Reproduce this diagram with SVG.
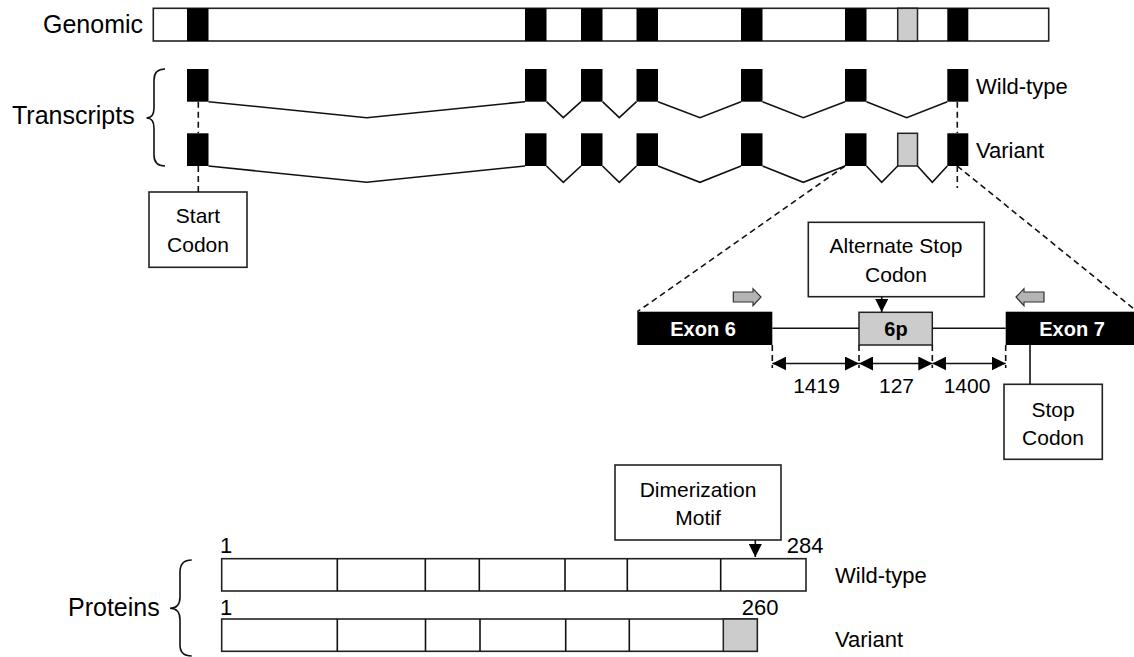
<svg xmlns="http://www.w3.org/2000/svg" width="1134" height="657" viewBox="0 0 1134 657">
<style>
text{font-family:"Liberation Sans",Arial,sans-serif;fill:#000}
.big{font-size:25px}
.lbl{font-size:21px}
.side{font-size:22px}
.ex{font-size:20px;font-weight:bold;fill:#fff}
.bar{fill:#fff;stroke:#222;stroke-width:1.6}
.exon{fill:#000}
.alt{fill:#ccc;stroke:#222;stroke-width:1.5}
.box{fill:#fff;stroke:#222;stroke-width:1.6}
.line{fill:none;stroke:#111;stroke-width:1.6}
.dash{fill:none;stroke:#111;stroke-width:1.6;stroke-dasharray:6,4}
.brace{fill:none;stroke:#111;stroke-width:1.6}
.garrow{fill:#b4b4b4;stroke:#333;stroke-width:1.2}
</style>
<defs>
<marker id="dimArrow" markerUnits="userSpaceOnUse" markerWidth="14" markerHeight="14" refX="14" refY="7" orient="auto-start-reverse">
<path d="M0,0 L14,7 L0,14 z" fill="#000"/>
</marker>
<marker id="downArrow" markerUnits="userSpaceOnUse" markerWidth="13" markerHeight="13" refX="13" refY="6.5" orient="auto">
<path d="M0,0 L13,6.5 L0,13 z" fill="#000"/>
</marker>
</defs>
<rect width="1134" height="657" fill="#fff"/>

<g id="genomic">
<text class="big" x="43" y="33">Genomic</text>
<rect class="bar" x="153.3" y="8.3" width="895.4" height="32.7"/>
<rect class="exon" x="187" y="8.3" width="21.5" height="32.7"/>
<rect class="exon" x="525" y="8.3" width="21.5" height="32.7"/>
<rect class="exon" x="581" y="8.3" width="21.5" height="32.7"/>
<rect class="exon" x="636.5" y="8.3" width="21.5" height="32.7"/>
<rect class="exon" x="741" y="8.3" width="21.5" height="32.7"/>
<rect class="exon" x="845" y="8.3" width="21.5" height="32.7"/>
<rect class="alt" x="897.7" y="8.3" width="19.8" height="32.7"/>
<rect class="exon" x="947.3" y="8.3" width="21" height="32.7"/>
</g>

<g id="transcripts-label">
<text class="big" x="12" y="124">Transcripts</text>
<path class="brace" d="M165,69 Q154,69 154,80 L154,108 Q154,118 146.5,118 Q154,118 154,128 L154,155 Q154,166 165,166"/>
</g>

<g id="transcript-wildtype">
<rect class="exon" x="187" y="69" width="21.5" height="32.7"/>
<rect class="exon" x="525" y="69" width="21.5" height="32.7"/>
<rect class="exon" x="581" y="69" width="21.5" height="32.7"/>
<rect class="exon" x="636.5" y="69" width="21.5" height="32.7"/>
<rect class="exon" x="741" y="69" width="21.5" height="32.7"/>
<rect class="exon" x="845" y="69" width="21.5" height="32.7"/>
<rect class="exon" x="947.3" y="69" width="21" height="32.7"/>
<polyline class="line" points="208.5,101.7 366.7,117.7 525,101.7"/>
<polyline class="line" points="546.5,101.7 563.3,117.7 581,101.7"/>
<polyline class="line" points="602.5,101.7 619.3,117.7 636.5,101.7"/>
<polyline class="line" points="658,101.7 700,117.7 741,101.7"/>
<polyline class="line" points="762.5,101.7 803.3,117.7 845,101.7"/>
<polyline class="line" points="866.5,101.7 906.7,117.7 947.3,101.7"/>
<text class="side" x="976" y="94">Wild-type</text>
</g>

<g id="transcript-variant">
<rect class="exon" x="187" y="133.3" width="21.5" height="32.7"/>
<rect class="exon" x="525" y="133.3" width="21.5" height="32.7"/>
<rect class="exon" x="581" y="133.3" width="21.5" height="32.7"/>
<rect class="exon" x="636.5" y="133.3" width="21.5" height="32.7"/>
<rect class="exon" x="741" y="133.3" width="21.5" height="32.7"/>
<rect class="exon" x="845" y="133.3" width="21.5" height="32.7"/>
<rect class="alt" x="897.7" y="133.3" width="19.8" height="32.7"/>
<rect class="exon" x="947.3" y="133.3" width="21" height="32.7"/>
<polyline class="line" points="208.5,166 366.7,182.3 525,166"/>
<polyline class="line" points="546.5,166 563.3,182.3 581,166"/>
<polyline class="line" points="602.5,166 619.3,182.3 636.5,166"/>
<polyline class="line" points="658,166 700,182.3 741,166"/>
<polyline class="line" points="762.5,166 803.3,182.3 845,166"/>
<polyline class="line" points="866.5,166 881.7,182.3 897.7,166"/>
<polyline class="line" points="917.5,166 932.3,182.3 947.3,166"/>
<text class="side" x="976" y="158">Variant</text>
</g>

<g id="start-codon">
<rect class="box" x="149" y="192" width="98" height="75.3"/>
<text class="lbl" x="198" y="223.3" text-anchor="middle">Start</text>
<text class="lbl" x="198" y="251.7" text-anchor="middle">Codon</text>
</g>

<g id="exon6">
<rect class="exon" x="637.3" y="311.7" width="135" height="33.3"/>
<text class="ex" x="703" y="336" text-anchor="middle">Exon 6</text>
</g>

<g id="exon6p">
<rect class="alt" x="859" y="312.3" width="73.3" height="32.7"/>
<text class="ex" x="896" y="336" text-anchor="middle" style="fill:#000">6p</text>
</g>

<g id="exon7">
<rect class="exon" x="1005.7" y="311.7" width="128.3" height="33.3"/>
<text class="ex" x="1072" y="336" text-anchor="middle">Exon 7</text>
</g>

<g id="primer-forward">
<polygon class="garrow" points="733.3,292 753,292 753,288.7 761,297 753,305.7 753,302 733.3,302"/>
</g>
<g id="primer-reverse">
<polygon class="garrow" points="1044,292 1024,292 1024,288.7 1016,297 1024,305.7 1024,302 1044,302"/>
</g>

<g id="alternate-stop-codon">
<rect class="box" x="808.3" y="222.3" width="176" height="74.4"/>
<text class="lbl" x="896" y="253.3" text-anchor="middle">Alternate Stop</text>
<text class="lbl" x="896" y="281.7" text-anchor="middle">Codon</text>
</g>

<g id="stop-codon">
<rect class="box" x="1004" y="384.3" width="98.3" height="75"/>
<text class="lbl" x="1053" y="416.7" text-anchor="middle">Stop</text>
<text class="lbl" x="1053" y="445" text-anchor="middle">Codon</text>
</g>

<g id="dimension-labels">
<text class="lbl" x="816.5" y="393.3" text-anchor="middle">1419</text>
<text class="lbl" x="896.5" y="393.3" text-anchor="middle">127</text>
<text class="lbl" x="967" y="393.3" text-anchor="middle">1400</text>
</g>

<g id="proteins-label">
<text class="big" x="68" y="615.5">Proteins</text>
<path class="brace" d="M191.7,560 Q180,560 180,572 L180,597 Q180,608.3 170,608.3 Q180,608.3 180,620 L180,645 Q180,656 191.7,656"/>
</g>

<g id="protein-wildtype">
<rect class="bar" x="221.7" y="558.7" width="584.3" height="32.3"/>
<path class="line" d="M337.3,558.7V591 M425.3,558.7V591 M479.3,558.7V591 M565,558.7V591 M627.3,558.7V591 M720.7,558.7V591"/>
<text class="side" x="220" y="552.7">1</text>
<text class="side" x="786.7" y="553.3">284</text>
<text class="side" x="835" y="582.7">Wild-type</text>
</g>

<g id="protein-variant">
<rect class="bar" x="221.7" y="619" width="535.6" height="32.3"/>
<rect class="alt" x="723.3" y="619" width="34" height="32.3"/>
<path class="line" d="M337.3,619V651.3 M425.5,619V651.3 M480,619V651.3 M565.7,619V651.3 M629.3,619V651.3"/>
<text class="side" x="220" y="615">1</text>
<text class="side" x="741.7" y="615">260</text>
<text class="side" x="835" y="646.7">Variant</text>
</g>

<g id="dimerization-motif">
<rect class="box" x="615" y="465" width="166" height="75"/>
<text class="lbl" x="698" y="496.7" text-anchor="middle">Dimerization</text>
<text class="lbl" x="698" y="525" text-anchor="middle">Motif</text>
</g>

<g id="connectors">
<line class="dash" x1="198.3" y1="101.7" x2="198.3" y2="133.3"/>
<line class="dash" x1="198.3" y1="166" x2="198.3" y2="192"/>
<line class="dash" x1="957.3" y1="101.7" x2="957.3" y2="133.3"/>
<line class="dash" x1="957.3" y1="166" x2="957.3" y2="188"/>
<line class="dash" x1="845" y1="166" x2="637.3" y2="311.7"/>
<line class="dash" x1="957.3" y1="166" x2="1134" y2="309"/>
<line class="line" x1="772.3" y1="328.3" x2="859" y2="328.3"/>
<line class="line" x1="932.3" y1="328.3" x2="1005.7" y2="328.3"/>
<line class="dash" x1="772.3" y1="345" x2="772.3" y2="368"/>
<line class="dash" x1="859" y1="345" x2="859" y2="368"/>
<line class="dash" x1="932.3" y1="345" x2="932.3" y2="368"/>
<line class="dash" x1="1005.7" y1="345" x2="1005.7" y2="368"/>
<line class="line" x1="772.3" y1="363.5" x2="859" y2="363.5" marker-start="url(#dimArrow)" marker-end="url(#dimArrow)"/>
<line class="line" x1="859" y1="363.5" x2="932.3" y2="363.5" marker-start="url(#dimArrow)" marker-end="url(#dimArrow)"/>
<line class="line" x1="932.3" y1="363.5" x2="1005.7" y2="363.5" marker-start="url(#dimArrow)" marker-end="url(#dimArrow)"/>
<line class="line" x1="1030" y1="345" x2="1030" y2="384.3"/>
<line class="line" x1="881.7" y1="296.7" x2="881.7" y2="312" marker-end="url(#downArrow)"/>
<line class="line" x1="755.3" y1="540" x2="755.3" y2="557" marker-end="url(#downArrow)"/>
</g>
</svg>
